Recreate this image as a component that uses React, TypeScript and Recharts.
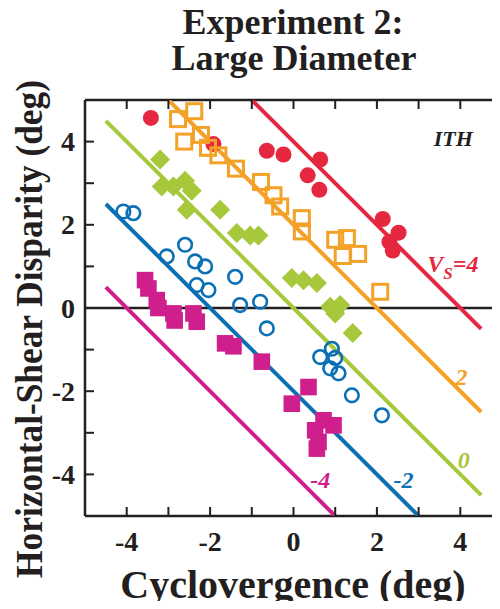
import React from 'react';
import { ScatterChart, Scatter, XAxis, YAxis, ReferenceLine, ReferenceDot } from 'recharts';

const FONT = '"Liberation Serif", "Times New Roman", Times, serif';
const INK = '#231f20';
const RED = '#e5283f';
const ORANGE = '#f4a128';
const GREEN = '#a7c83b';
const BLUE = '#0b6fb4';
const MAGENTA = '#cf1f8c';

// axis ticks
const xTicks = [-4, -3, -2, -1, 0, 1, 2, 3, 4];
const yTicks = [-4, -3, -2, -1, 0, 1, 2, 3, 4];
const labeledTicks = [-4, -2, 0, 2, 4];

// data (cyclovergence x, horizontal-shear disparity y)
const vs4Points = [
  { x: -3.42, y: 4.57 }, { x: -1.92, y: 3.94 }, { x: -0.64, y: 3.78 }, { x: -0.24, y: 3.69 },
  { x: 0.64, y: 3.57 }, { x: 0.34, y: 3.19 }, { x: 0.62, y: 2.84 }, { x: 2.14, y: 2.14 },
  { x: 2.52, y: 1.81 }, { x: 2.3, y: 1.59 }, { x: 2.38, y: 1.38 },
];
const vs2Points = [
  { x: -2.77, y: 4.54 }, { x: -2.38, y: 4.73 }, { x: -2.62, y: 4.0 }, { x: -2.22, y: 4.16 },
  { x: -2.05, y: 3.85 }, { x: -1.8, y: 3.67 }, { x: -1.38, y: 3.35 }, { x: -0.78, y: 3.03 },
  { x: -0.48, y: 2.71 }, { x: -0.32, y: 2.44 }, { x: 0.2, y: 2.16 }, { x: 0.2, y: 1.84 },
  { x: 1.0, y: 1.64 }, { x: 1.28, y: 1.68 }, { x: 1.18, y: 1.25 }, { x: 1.55, y: 1.3 },
  { x: 2.08, y: 0.39 },
];
const vs0Points = [
  { x: -3.2, y: 3.57 }, { x: -3.16, y: 2.92 }, { x: -2.88, y: 2.92 }, { x: -2.6, y: 3.06 },
  { x: -2.44, y: 2.82 }, { x: -2.56, y: 2.36 }, { x: -1.76, y: 2.36 }, { x: -1.36, y: 1.8 },
  { x: -1.04, y: 1.74 }, { x: -0.84, y: 1.74 }, { x: -0.04, y: 0.72 }, { x: 0.24, y: 0.67 },
  { x: 0.56, y: 0.6 }, { x: 0.88, y: 0.03 }, { x: 1.12, y: 0.07 }, { x: 1.0, y: -0.13 },
  { x: 1.42, y: -0.6 },
];
const vsM2Points = [
  { x: -4.08, y: 2.32 }, { x: -3.84, y: 2.28 }, { x: -3.04, y: 1.24 }, { x: -2.6, y: 1.52 },
  { x: -2.36, y: 1.12 }, { x: -2.12, y: 1.0 }, { x: -2.32, y: 0.55 }, { x: -2.04, y: 0.43 },
  { x: -1.4, y: 0.75 }, { x: -1.28, y: 0.07 }, { x: -0.8, y: 0.15 }, { x: -0.64, y: -0.49 },
  { x: 0.64, y: -1.18 }, { x: 0.92, y: -0.98 }, { x: 1.0, y: -1.2 }, { x: 0.88, y: -1.45 },
  { x: 1.08, y: -1.57 }, { x: 1.4, y: -2.1 }, { x: 2.12, y: -2.58 },
];
const vsM4Points = [
  { x: -3.56, y: 0.67 }, { x: -3.48, y: 0.47 }, { x: -3.28, y: 0.19 }, { x: -3.24, y: 0.0 },
  { x: -2.88, y: -0.13 }, { x: -2.85, y: -0.3 }, { x: -2.4, y: -0.13 }, { x: -2.32, y: -0.33 },
  { x: -1.64, y: -0.85 }, { x: -1.44, y: -0.92 }, { x: -0.76, y: -1.29 }, { x: 0.36, y: -1.9 },
  { x: -0.04, y: -2.3 }, { x: 0.72, y: -2.7 }, { x: 0.96, y: -2.82 }, { x: 0.52, y: -2.94 },
  { x: 0.6, y: -3.22 }, { x: 0.56, y: -3.38 },
];

// prediction lines: disparity = intercept - cyclovergence, drawn over x in [-4.5, 4.5]
const lineIntercepts = [4, 2, 0, -2, -4];
const lineXRange = [-4.5, 4.5];
const yLimits = [-5, 5];

const fitLine = (c: number) => {
  const x0 = Math.max(lineXRange[0], c - yLimits[1]);
  const x1 = Math.min(lineXRange[1], c - yLimits[0]);
  return [{ x: x0, y: c - x0 }, { x: x1, y: c - x1 }];
};

const lineColors = [RED, ORANGE, GREEN, BLUE, MAGENTA];

const Empty = () => <g />;

const RedDot = (p: any) => <circle cx={p.cx} cy={p.cy} r={8} fill={RED} />;
const OrangeSquare = (p: any) => (
  <rect x={p.cx - 7.5} y={p.cy - 7.5} width={15} height={15} fill="none" stroke={ORANGE} strokeWidth={3} />
);
const GreenDiamond = (p: any) => (
  <polygon
    points={`${p.cx},${p.cy - 10} ${p.cx + 10},${p.cy} ${p.cx},${p.cy + 10} ${p.cx - 10},${p.cy}`}
    fill={GREEN}
  />
);
const BlueRing = (p: any) => (
  <circle cx={p.cx} cy={p.cy} r={6.8} fill="none" stroke={BLUE} strokeWidth={2.6} />
);
const MagentaSquare = (p: any) => (
  <rect x={p.cx - 8.3} y={p.cy - 8.3} width={16.6} height={16.6} fill={MAGENTA} />
);

const BottomTick = (p: any) => {
  const v = p.payload.value;
  return (
    <g>
      <line x1={p.x} x2={p.x} y1={p.y} y2={p.y - 9} stroke={INK} strokeWidth={2} />
      {labeledTicks.includes(v) && (
        <text x={p.x} y={p.y + 35} textAnchor="middle" fontFamily={FONT} fontWeight="bold" fontSize={28} fill={INK}>
          {v}
        </text>
      )}
    </g>
  );
};
const LeftTick = (p: any) => {
  const v = p.payload.value;
  return (
    <g>
      <line x1={p.x} x2={p.x + 9} y1={p.y} y2={p.y} stroke={INK} strokeWidth={2} />
      {labeledTicks.includes(v) && (
        <text x={p.x - 10} y={p.y + 9.5} textAnchor="end" fontFamily={FONT} fontWeight="bold" fontSize={28} fill={INK}>
          {v}
        </text>
      )}
    </g>
  );
};
const TopTick = (p: any) => (
  <line x1={p.x} x2={p.x} y1={p.y} y2={p.y + 9} stroke={INK} strokeWidth={2} />
);
const RightTick = (p: any) => (
  <line x1={p.x} x2={p.x - 8} y1={p.y} y2={p.y} stroke={INK} strokeWidth={2} />
);

const lineLabelStyle = { fontFamily: FONT, fontWeight: 'bold' as const, fontStyle: 'italic' as const, fontSize: 24 };

export default function App() {
  return (
    <div style={{ position: 'relative', width: 500, height: 609, overflow: 'hidden', margin: -8, background: '#fff' }}>
      <ScatterChart width={510} height={609} margin={{ top: 0, right: 0, bottom: 0, left: 0 }}>
        <XAxis
          xAxisId="bottom"
          type="number"
          dataKey="x"
          orientation="bottom"
          domain={[-5, 5]}
          allowDataOverflow
          ticks={xTicks}
          interval={0}
          height={93}
          tickSize={0}
          tickMargin={0}
          tickLine={false}
          axisLine={{ stroke: INK, strokeWidth: 2.5 }}
          tick={<BottomTick />}
        />
        <XAxis
          xAxisId="top"
          type="number"
          dataKey="x"
          orientation="top"
          domain={[-5, 5]}
          allowDataOverflow
          ticks={xTicks}
          interval={0}
          height={100}
          tickSize={0}
          tickMargin={0}
          tickLine={false}
          axisLine={{ stroke: INK, strokeWidth: 2.5 }}
          tick={<TopTick />}
        />
        <YAxis
          yAxisId="left"
          type="number"
          dataKey="y"
          orientation="left"
          domain={[-5, 5]}
          allowDataOverflow
          ticks={yTicks}
          interval={0}
          width={85}
          tickSize={0}
          tickMargin={0}
          tickLine={false}
          axisLine={{ stroke: INK, strokeWidth: 2.5 }}
          tick={<LeftTick />}
        />
        <YAxis
          yAxisId="right"
          type="number"
          dataKey="y"
          orientation="right"
          domain={[-5, 5]}
          allowDataOverflow
          ticks={yTicks}
          interval={0}
          width={8}
          tickSize={0}
          tickMargin={0}
          tickLine={false}
          axisLine={{ stroke: INK, strokeWidth: 2.5 }}
          tick={<RightTick />}
        />

        <ReferenceLine xAxisId="bottom" yAxisId="left" y={0} stroke={INK} strokeWidth={2.5} />

        {lineIntercepts.map((c, i) => (
          <Scatter
            key={`line${c}`}
            xAxisId="bottom"
            yAxisId="left"
            data={fitLine(c)}
            line={{ stroke: lineColors[i], strokeWidth: 4 }}
            shape={<Empty />}
            isAnimationActive={false}
          />
        ))}

        <Scatter xAxisId="bottom" yAxisId="left" data={vs4Points} shape={<RedDot />} isAnimationActive={false} />
        <Scatter xAxisId="bottom" yAxisId="left" data={vs2Points} shape={<OrangeSquare />} isAnimationActive={false} />
        <Scatter xAxisId="bottom" yAxisId="left" data={vs0Points} shape={<GreenDiamond />} isAnimationActive={false} />
        <Scatter xAxisId="bottom" yAxisId="left" data={vsM2Points} shape={<BlueRing />} isAnimationActive={false} />
        <Scatter xAxisId="bottom" yAxisId="left" data={vsM4Points} shape={<MagentaSquare />} isAnimationActive={false} />

        <ReferenceDot xAxisId="bottom" yAxisId="left" x={3.83} y={3.89} r={0} ifOverflow="visible"
          shape={(p: any) => (
            <text x={p.cx} y={p.cy} textAnchor="middle" fill={INK} fontFamily={FONT} fontWeight="bold" fontStyle="italic" fontSize={22}>ITH</text>
          )}
        />
        <ReferenceDot xAxisId="bottom" yAxisId="left" x={3.21} y={0.87} r={0} ifOverflow="visible"
          shape={(p: any) => (
            <text x={p.cx} y={p.cy} fill={RED} {...lineLabelStyle}>
              V<tspan fontSize={17} dy={7}>S</tspan><tspan dy={-7}>=4</tspan>
            </text>
          )}
        />
        <ReferenceDot xAxisId="bottom" yAxisId="left" x={4.03} y={-1.85} r={0} ifOverflow="visible"
          shape={(p: any) => (
            <text x={p.cx} y={p.cy} textAnchor="middle" fill={ORANGE} {...lineLabelStyle}>2</text>
          )}
        />
        <ReferenceDot xAxisId="bottom" yAxisId="left" x={4.08} y={-3.85} r={0} ifOverflow="visible"
          shape={(p: any) => (
            <text x={p.cx} y={p.cy} textAnchor="middle" fill={GREEN} {...lineLabelStyle}>0</text>
          )}
        />
        <ReferenceDot xAxisId="bottom" yAxisId="left" x={2.64} y={-4.33} r={0} ifOverflow="visible"
          shape={(p: any) => (
            <text x={p.cx} y={p.cy} textAnchor="middle" fill={BLUE} {...lineLabelStyle}>-2</text>
          )}
        />
        <ReferenceDot xAxisId="bottom" yAxisId="left" x={0.64} y={-4.33} r={0} ifOverflow="visible"
          shape={(p: any) => (
            <text x={p.cx} y={p.cy} textAnchor="middle" fill={MAGENTA} {...lineLabelStyle}>-4</text>
          )}
        />

        <text textAnchor="middle" fontFamily={FONT} fontWeight="bold" fontSize={36} fill={INK}>
          <tspan x={293} y={34}>Experiment 2:</tspan>
          <tspan x={294} y={70}>Large Diameter</tspan>
        </text>
        <text x={293} y={598} textAnchor="middle" fontFamily={FONT} fontWeight="bold" fontSize={40} fill={INK}>Cyclovergence (deg)</text>
        <text x={0} y={0} textAnchor="middle" transform="translate(42 329) rotate(-90) scale(0.93 1)" fontFamily={FONT} fontWeight="bold" fontSize={38} fill={INK}>
          Horizontal-Shear Disparity (deg)
        </text>
      </ScatterChart>
    </div>
  );
}
